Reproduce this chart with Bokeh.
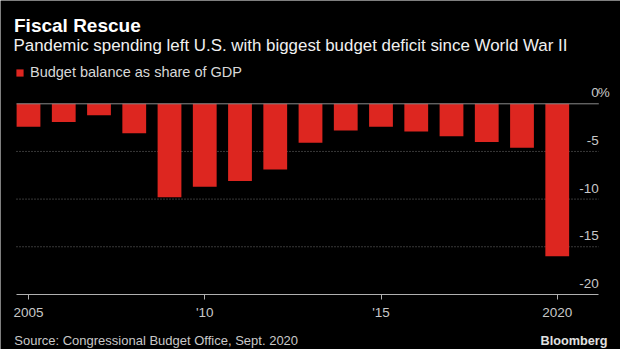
from bokeh.plotting import figure
from bokeh.models import (Range1d, LinearAxis, FixedTicker, Label, Legend,
                          LegendItem, ColumnDataSource)
from bokeh.core.properties import value
from bokeh.embed import file_html
from bokeh.resources import INLINE

# ---- data ----
years = list(range(2005, 2021))
balance = [-2.4, -1.9, -1.2, -3.1, -9.8, -8.7, -8.1, -6.9,
           -4.1, -2.8, -2.4, -2.9, -3.4, -4.0, -4.6, -16.0]
x_ticks = [2005, 2010, 2015, 2020]
x_tick_labels = ["2005", "'10", "'15", "2020"]
y_ticks = [0, -5, -10, -15, -20]
y_tick_labels = ["0", "-5", "-10", "-15", "-20"]
grid_values = [-5, -10, -15]

title = "Fiscal Rescue"
subtitle = "Pandemic spending left U.S. with biggest budget deficit since World War II"
legend_label = "Budget balance as share of GDP"
source_note = "Source: Congressional Budget Office, Sept. 2020"
brand = "Bloomberg"

# ---- geometry ----
W, H = 620, 349
FONT = "Liberation Sans"
px_per_year = 35.25
first_center_px = 28.0
x_start = years[0] - first_center_px / px_per_year
x_end = x_start + W / px_per_year
plot_left_px, plot_right_px = 16.0, 598.3
bx0 = x_start + plot_left_px / px_per_year
bx1 = x_start + plot_right_px / px_per_year

zero_px = 103.3          # from top
px_per_unit = 9.53
y_end = zero_px / px_per_unit
y_start = -(H - zero_px) / px_per_unit

BG = "#000000"
RED = "#dd2620"
LABEL = "#c8c8c8"

p = figure(width=W, height=H, output_backend="svg", toolbar_location=None,
           x_range=Range1d(x_start, x_end), y_range=Range1d(y_start, y_end),
           x_axis_location=None, y_axis_location=None, min_border=0)
p.background_fill_color = BG
p.border_fill_color = BG
p.outline_line_color = None
p.grid.visible = False

# gridlines (dotted)
p.segment(x0=[bx0] * len(grid_values), x1=[bx1] * len(grid_values),
          y0=grid_values, y1=grid_values, line_color="#707070",
          line_width=1, line_dash="1 2")

src = ColumnDataSource(dict(year=years, balance=balance))
bars = p.vbar(x="year", top=0, bottom="balance", width=0.675, source=src,
              fill_color=RED, line_color=None)

# zero line
p.segment(x0=[bx0], x1=[bx1], y0=[y_ticks[0]], y1=[y_ticks[0]],
          line_color="#8a8a8a", line_width=1)

# x axis at the bottom value
xaxis = LinearAxis(fixed_location=y_ticks[-1], bounds=(bx0, bx1),
                   ticker=FixedTicker(ticks=x_ticks),
                   major_label_overrides={t: l for t, l in zip(x_ticks, x_tick_labels)})
xaxis.axis_line_color = "#b0b0b0"
xaxis.axis_line_width = 1
xaxis.major_tick_line_color = "#b0b0b0"
xaxis.major_tick_in = 0
xaxis.major_tick_out = 5
xaxis.minor_tick_line_color = None
xaxis.major_label_text_color = LABEL
xaxis.major_label_text_font = FONT
xaxis.major_label_text_font_size = "13.5px"
xaxis.major_label_standoff = 6
p.add_layout(xaxis, "below")

# y tick labels, above their gridlines at the right
p.text(x=[bx1] * len(y_ticks), y=y_ticks, text=y_tick_labels,
       text_align="right", text_baseline="alphabetic", y_offset=-11,
       text_color=LABEL, text_font=value(FONT), text_font_size="13.5px")
p.text(x=[bx1], y=[y_ticks[0]], text=["%"], text_align="left",
       text_baseline="alphabetic", y_offset=-11, x_offset=-1,
       text_color=LABEL, text_font=value(FONT), text_font_size="13.5px")

# legend
legend = Legend(items=[LegendItem(label=legend_label, renderers=[bars])],
                location=(15, H - 80), orientation="vertical",
                glyph_width=9, glyph_height=9, label_height=9,
                label_standoff=6, padding=0, margin=0, spacing=0,
                background_fill_alpha=0, border_line_color=None,
                label_text_color="#d8d8d8", label_text_font=FONT,
                label_text_font_size="14.5px")
p.add_layout(legend, "center")

# titles and notes
p.add_layout(Label(x=13.5, y=H - 29.3 + 4.4, x_units="screen", y_units="screen",
                   text=title, text_color="#ffffff", text_font=FONT,
                   text_font_size="19px", text_font_style="bold",
                   text_baseline="alphabetic"))
p.add_layout(Label(x=13, y=H - 49.3 + 3.9, x_units="screen", y_units="screen",
                   text=subtitle, text_color="#f0f0f0", text_font=FONT,
                   text_font_size="16.9px", text_baseline="alphabetic"))
p.add_layout(Label(x=13.8, y=H - 343.3 + 3.0, x_units="screen", y_units="screen",
                   text=source_note, text_color=LABEL, text_font=FONT,
                   text_font_size="13px", text_baseline="alphabetic"))
p.add_layout(Label(x=540, y=H - 343.3 + 3.0, x_units="screen", y_units="screen",
                   text=brand, text_color="#e0e0e0", text_font=FONT,
                   text_font_size="12.7px", text_font_style="bold",
                   text_baseline="alphabetic"))

open("out.html", "w").write(file_html(p, INLINE))
